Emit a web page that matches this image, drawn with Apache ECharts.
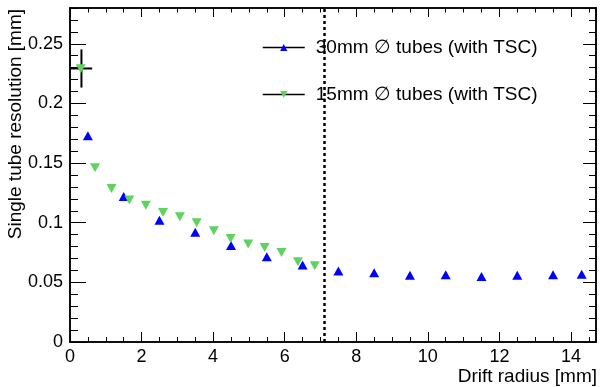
<!DOCTYPE html>
<html>
<head>
<meta charset="utf-8">
<script src="https://cdn.jsdelivr.net/npm/echarts@6/dist/echarts.min.js"></script>
<style>
  html, body { margin: 0; padding: 0; background: #fff; }
  #chart { width: 600px; height: 387px; }
</style>
</head>
<body>
<div id="chart"></div>
<script>
// 30mm tubes (up triangles)
var radius30 = [0.5, 1.5, 2.5, 3.5, 4.5, 5.5, 6.5, 7.5, 8.5, 9.5, 10.5, 11.5, 12.5, 13.5, 14.3];
var resol30 = [0.173, 0.122, 0.102, 0.092, 0.081, 0.0715, 0.0645, 0.0595, 0.058, 0.056, 0.0564, 0.055, 0.056, 0.0564, 0.0567];

// 15mm tubes (down triangles)
var radius15 = [0.3, 0.7, 1.16, 1.66, 2.12, 2.6, 3.07, 3.54, 4.02, 4.49, 4.98, 5.44, 5.91, 6.37, 6.84];
var resol15 = [0.229, 0.146, 0.1287, 0.119, 0.1147, 0.1086, 0.105, 0.0999, 0.0932, 0.0868, 0.0821, 0.0793, 0.0751, 0.0673, 0.0639];

// error bar on the first 15mm point: [x, y, xerr, yerr]
var errPoint = [0.32, 0.2293, 0.3, 0.016];

// dotted line marking the 15mm tube radius
var tubeEdge = 7.1;

var names = ['30mm \u2205 tubes (with TSC)', '15mm \u2205 tubes (with TSC)'];

var font = 'Liberation Sans, Arial, sans-serif';
var xMax = 14.7, yMax = 0.28;

function pairs(xs, ys) {
  return xs.map(function (x, i) { return [x, ys[i]]; });
}

function frameAxis(pos, interval, len, extra) {
  var ax = {
    type: 'value', position: pos, interval: interval,
    axisLine: { show: true, onZero: false, lineStyle: { color: '#000', width: 1.5 } },
    axisTick: { show: true, inside: true, length: len, lineStyle: { color: '#000', width: 1 } },
    axisLabel: { show: false },
    splitLine: { show: false }
  };
  return Object.assign(ax, extra || {});
}

var chart = echarts.init(document.getElementById('chart'));

var xAxes = [
  frameAxis('bottom', 2, 10, {
    min: 0, max: xMax,
    axisLabel: { show: true, color: '#000', fontSize: 18, fontFamily: font, margin: 6, showMaxLabel: false },
    name: 'Drift radius [mm]', nameLocation: 'end', nameGap: 1,
    nameTextStyle: { color: '#000', fontSize: 19, fontFamily: font, align: 'right', verticalAlign: 'top', padding: [25, 0, 0, 0] }
  }),
  frameAxis('bottom', 0.5, 5, { min: 0, max: xMax }),
  frameAxis('top', 2, 9, { min: 0, max: xMax }),
  frameAxis('top', 0.5, 4.5, { min: 0, max: xMax })
];

var yAxes = [
  frameAxis('left', 0.05, 16, {
    min: 0, max: yMax,
    axisLabel: { show: true, color: '#000', fontSize: 18, fontFamily: font, margin: 7, showMaxLabel: false },
    name: 'Single tube resolution [mm]', nameLocation: 'end', nameGap: -1, nameRotate: 90,
    nameTextStyle: { color: '#000', fontSize: 19, fontFamily: font, align: 'right', verticalAlign: 'bottom', padding: [0, 0, 45, 0] }
  }),
  frameAxis('left', 0.01, 8, { min: 0, max: yMax }),
  frameAxis('right', 0.05, 13, { min: 0, max: yMax }),
  frameAxis('right', 0.01, 7, { min: 0, max: yMax })
];

chart.setOption({
  animation: false,
  backgroundColor: '#fff',
  grid: { left: 70, right: 3, top: 8, bottom: 45 },
  xAxis: xAxes,
  yAxis: yAxes,
  legend: {
    left: 257, top: 28, orient: 'vertical',
    padding: [10, 5, 12, 5],
    backgroundColor: '#fff',
    itemWidth: 42, itemHeight: 9, itemGap: 28,
    data: names,
    lineStyle: { color: '#000', opacity: 1, width: 1.5 },
    textStyle: { color: '#000', fontSize: 19, fontFamily: font, padding: [0, 0, 0, 6] }
  },
  series: [
    {
      type: 'custom',
      name: 'err',
      z: 1,
      renderItem: function (params, api) {
        var x = api.value(0), y = api.value(1), ex = api.value(2), ey = api.value(3);
        var l = api.coord([x - ex, y]), r = api.coord([x + ex, y]);
        var t = api.coord([x, y + ey]), b = api.coord([x, y - ey]);
        return {
          type: 'group',
          children: [
            { type: 'line', shape: { x1: l[0], y1: l[1], x2: r[0], y2: r[1] }, style: { stroke: '#000', lineWidth: 2 } },
            { type: 'line', shape: { x1: t[0], y1: t[1], x2: b[0], y2: b[1] }, style: { stroke: '#000', lineWidth: 2 } }
          ]
        };
      },
      data: [errPoint]
    },
    {
      type: 'line',
      name: names[0],
      z: 3,
      symbol: 'triangle',
      symbolSize: [10, 9],
      showAllSymbol: true,
      itemStyle: { color: '#0000ff' },
      lineStyle: { opacity: 0 },
      data: pairs(radius30, resol30),
      markLine: {
        silent: true, symbol: 'none', label: { show: false },
        lineStyle: { color: '#000', type: [3, 3], width: 2.5 },
        data: [{ xAxis: tubeEdge }]
      }
    },
    {
      type: 'line',
      name: names[1],
      z: 3,
      symbol: 'triangle',
      symbolRotate: 180,
      symbolSize: [10, 9],
      showAllSymbol: true,
      itemStyle: { color: '#5fd35f' },
      lineStyle: { opacity: 0 },
      data: pairs(radius15, resol15)
    }
  ]
});
</script>
</body>
</html>
